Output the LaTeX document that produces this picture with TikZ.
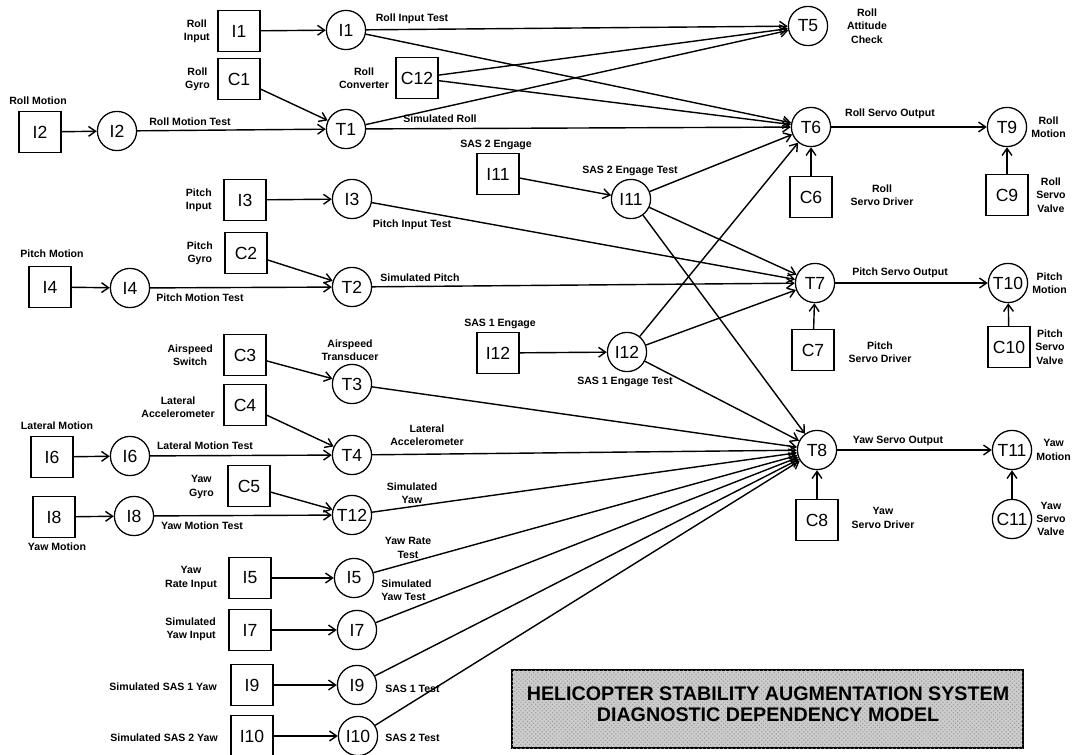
\documentclass[tikz,border=0pt]{standalone}
\usepackage{fontspec}
\setmainfont{Liberation Sans}
\usepackage{tikz}
\usetikzlibrary{
  arrows.meta,
  patterns
}
\tikzset{>={Straight Barb[length=5pt,width=7pt]}}
\tikzset{
  comp/.style={draw, rectangle, line width=0.9pt, minimum width=1.05cm,
    minimum height=1.02cm, inner sep=0pt, font=\fontsize{12.5}{14}\selectfont},
  tst/.style={draw, circle, line width=0.9pt, minimum size=0.98cm,
    inner sep=0pt, font=\fontsize{12.5}{14}\selectfont},
  lbl/.style={inner sep=0pt, align=center,
    font=\bfseries\fontsize{7.5}{9.5}\selectfont},
  dep/.style={->, line width=1pt}
}

\begin{document}
\begin{tikzpicture}[x=0.025cm, y=-0.025cm] \label{fig:sas-dependency-model}
	\useasboundingbox (0,0) rectangle (1072,755);
	% components and inputs
	\node[comp] (bI1)  at (239,31)  {I1};
	\node[comp] (bC1)  at (239,79)  {C1};
	\node[comp] (bI2)  at (40,132)  {I2};
	\node[comp] (bC12) at (417,78)  {C12};
	\node[comp] (bI11) at (498,174) {I11};
	\node[comp] (bI3)  at (245,200) {I3};
	\node[comp] (bC2)  at (246,253) {C2};
	\node[comp] (bI4)  at (50,287)  {I4};
	\node[comp] (bC3)  at (245,355) {C3};
	\node[comp] (bI12) at (498,353) {I12};
	\node[comp] (bC4)  at (245,405) {C4};
	\node[comp] (bI6)  at (52,457)  {I6};
	\node[comp] (bC5)  at (249,486) {C5};
	\node[comp] (bI8)  at (54,517)  {I8};
	\node[comp] (bI5)  at (250,578) {I5};
	\node[comp] (bI7)  at (250,630) {I7};
	\node[comp] (bI9)  at (252,685) {I9};
	\node[comp] (bI10) at (252,736) {I10};
	\node[comp] (bC6)  at (811,197) {C6};
	\node[comp] (bC9)  at (1007,195) {C9};
	\node[comp] (bC7)  at (813,350) {C7};
	\node[comp] (bC10) at (1009,347) {C10};
	\node[comp] (bC8)  at (817,520) {C8};
	% tests
	\node[tst] (cI1)  at (346,30)  {I1};
	\node[tst] (cI2)  at (117,131) {I2};
	\node[tst] (cT1)  at (346,129) {T1};
	\node[tst] (cT5)  at (808,26)  {T5};
	\node[tst] (cT6)  at (811,127) {T6};
	\node[tst] (cT9)  at (1007,127) {T9};
	\node[tst] (cI11) at (631,199) {I11};
	\node[tst] (cI3)  at (352,199) {I3};
	\node[tst] (cT2)  at (352,287) {T2};
	\node[tst] (cI4)  at (130,288) {I4};
	\node[tst] (cT7)  at (815,283) {T7};
	\node[tst] (cT10) at (1008,283) {T10};
	\node[tst] (cI12) at (627,352) {I12};
	\node[tst] (cT3)  at (352,384) {T3};
	\node[tst] (cI6)  at (130,456) {I6};
	\node[tst] (cT4)  at (352,455) {T4};
	\node[tst] (cI8)  at (134,516) {I8};
	\node[tst] (cT12) at (352,515) {T12};
	\node[tst] (cT8)  at (817,450) {T8};
	\node[tst] (cT11) at (1012,450) {T11};
	\node[tst] (cC11) at (1012,519) {C11};
	\node[tst] (cI5)  at (354,578) {I5};
	\node[tst] (cI7)  at (357,630) {I7};
	\node[tst] (cI9)  at (357,685) {I9};
	\node[tst] (cI10) at (358,736) {I10};
	% labels
	\node[lbl, anchor=east] (lRollInput) at (210,31) {Roll\\Input};
	\node[lbl, anchor=east] (lRollGyro) at (210,79) {Roll\\Gyro};
	\node[lbl] (lRollMotion) at (38,101) {Roll Motion};
	\node[lbl] (lRollMotionTest) at (190,122) {Roll Motion Test};
	\node[lbl] (lRollInputTest) at (412,19) {Roll Input Test};
	\node[lbl] (lRollConv) at (364,78) {Roll\\Converter};
	\node[lbl] (lSimRoll) at (440,119) {Simulated Roll};
	\node[lbl] (lSasTwoEng) at (496,145) {SAS 2 Engage};
	\node[lbl] (lSasTwoEngTest) at (630,171) {SAS 2 Engage Test};
	\node[lbl] (lRollAtt) at (867,26) {Roll\\Attitude\\Check};
	\node[lbl] (lRollServoOut) at (890,114) {Roll Servo Output};
	\node[lbl, anchor=west] (lRollMot) at (1031,127) {Roll\\Motion};
	\node[lbl] (lRollDriver) at (882,195) {Roll\\Servo Driver};
	\node[lbl, anchor=west] (lRollValve) at (1036,195) {Roll\\Servo\\Valve};
	\node[lbl, anchor=east] (lPitchInput) at (212,200) {Pitch\\Input};
	\node[lbl] (lPitchInputTest) at (412,225) {Pitch Input Test};
	\node[lbl, anchor=east] (lPitchGyro) at (213,253) {Pitch\\Gyro};
	\node[lbl] (lPitchMotion) at (52,254) {Pitch Motion};
	\node[lbl] (lPitchMotionTest) at (200,298) {Pitch Motion Test};
	\node[lbl] (lSimPitch) at (420,278) {Simulated Pitch};
	\node[lbl] (lPitchServoOut) at (900,273) {Pitch Servo Output};
	\node[lbl, anchor=west] (lPitchMot) at (1032,283) {Pitch\\Motion};
	\node[lbl] (lPitchDriver) at (880,352) {Pitch\\Servo Driver};
	\node[lbl, anchor=west] (lPitchValve) at (1035,347) {Pitch\\Servo\\Valve};
	\node[lbl] (lSasOneEng) at (500,324) {SAS 1 Engage};
	\node[lbl] (lSasOneEngTest) at (625,382) {SAS 1 Engage Test};
	\node[lbl, anchor=east] (lAirSwitch) at (213,355) {Airspeed\\Switch};
	\node[lbl] (lAirTrans) at (350,350) {Airspeed\\Transducer};
	\node[lbl, anchor=east] (lLatAcc) at (215,407) {Lateral\\Accelerometer};
	\node[lbl] (lLatMotion) at (57,426) {Lateral Motion};
	\node[lbl] (lLatMotionTest) at (205,446) {Lateral Motion Test};
	\node[lbl] (lLatAccTest) at (427,435) {Lateral\\Accelerometer};
	\node[lbl, anchor=east] (lYawGyro) at (214,487) {Yaw\\Gyro};
	\node[lbl] (lYawMotionTest) at (202,526) {Yaw Motion Test};
	\node[lbl] (lYawMotion) at (57,547) {Yaw Motion};
	\node[lbl] (lSimYaw) at (412,493) {Simulated\\Yaw};
	\node[lbl] (lYawServoOut) at (898,441) {Yaw Servo Output};
	\node[lbl, anchor=west] (lYawMot) at (1036,450) {Yaw\\Motion};
	\node[lbl] (lYawDriver) at (883,518) {Yaw\\Servo Driver};
	\node[lbl, anchor=west] (lYawValve) at (1036,519) {Yaw\\Servo\\Valve};
	\node[lbl] (lYawRateInput) at (191,578) {Yaw\\Rate Input};
	\node[lbl] (lYawRateTest) at (408,548) {Yaw Rate\\Test};
	\node[lbl, anchor=east, align=right] (lSimYawInput) at (216,629) {Simulated\\Yaw Input};
	\node[lbl, anchor=west, align=left] (lSimYawTest) at (381,590) {Simulated\\Yaw Test};
	\node[lbl, anchor=east] (lSimSasOne) at (217,687) {Simulated SAS 1 Yaw};
	\node[lbl, anchor=west] (lSasOneTest) at (385,689) {SAS 1 Test};
	\node[lbl, anchor=east] (lSimSasTwo) at (218,738) {Simulated SAS 2 Yaw};
	\node[lbl, anchor=west] (lSasTwoTest) at (385,738) {SAS 2 Test};
	% dependencies
	\draw[dep] (bI1) -- (cI1);
	\draw[dep] (bC1) -- (cT1);
	\draw[dep] (bI2) -- (cI2);
	\draw[dep] (cI2) -- (cT1);
	\draw[dep] (cI1) -- (cT5);
	\draw[dep] (cI1) -- (cT6);
	\draw[dep] (bC12) -- (cT5);
	\draw[dep] (bC12) -- (cT6);
	\draw[dep] (cT1) -- (cT5);
	\draw[dep] (cT1) -- (cT6);
	\draw[dep] (bI11) -- (cI11);
	\draw[dep] (cI11) -- (cT6);
	\draw[dep] (cI11) -- (cT7);
	\draw[dep] (cI11) -- (cT8);
	\draw[dep] (bI12) -- (cI12);
	\draw[dep] (cI12) -- (cT6);
	\draw[dep] (cI12) -- (cT7);
	\draw[dep] (cI12) -- (cT8);
	\draw[dep] (bI3) -- (cI3);
	\draw[dep] (cI3) -- (cT7);
	\draw[dep] (bC2) -- (cT2);
	\draw[dep] (bI4) -- (cI4);
	\draw[dep] (cI4) -- (cT2);
	\draw[dep] (cT2) -- (cT7);
	\draw[dep] (bC3) -- (cT3);
	\draw[dep] (cT3) -- (cT8);
	\draw[dep] (bC4) -- (cT4);
	\draw[dep] (bI6) -- (cI6);
	\draw[dep] (cI6) -- (cT4);
	\draw[dep] (cT4) -- (cT8);
	\draw[dep] (bC5) -- (cT12);
	\draw[dep] (bI8) -- (cI8);
	\draw[dep] (cI8) -- (cT12);
	\draw[dep] (cT12) -- (cT8);
	\draw[dep] (bI5) -- (cI5);
	\draw[dep] (cI5) -- (cT8);
	\draw[dep] (bI7) -- (cI7);
	\draw[dep] (cI7) -- (cT8);
	\draw[dep] (bI9) -- (cI9);
	\draw[dep] (cI9) -- (cT8);
	\draw[dep] (bI10) -- (cI10);
	\draw[dep] (cI10) -- (cT8);
	\draw[dep] (cT6) -- (cT9);
	\draw[dep] (bC6) -- (cT6);
	\draw[dep] (bC9) -- (cT9);
	\draw[dep] (cT7) -- (cT10);
	\draw[dep] (bC7) -- (cT7);
	\draw[dep] (bC10) -- (cT10);
	\draw[dep] (cT8) -- (cT11);
	\draw[dep] (bC8) -- (cT8);
	\draw[dep] (cC11) -- (cT11);
	% title
	\draw[line width=1.3pt, fill=black!20,
		postaction={pattern=crosshatch dots, pattern color=black!40}]
		(512,670) rectangle (1023,748);
	\node[align=center, inner sep=0pt, font=\bfseries\fontsize{14}{15}\selectfont]
		(title) at (768,704) {HELICOPTER STABILITY AUGMENTATION SYSTEM\\DIAGNOSTIC DEPENDENCY MODEL};
\end{tikzpicture}
\end{document}
